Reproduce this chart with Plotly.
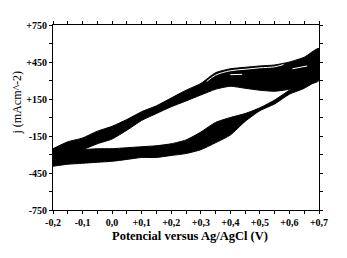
import plotly.graph_objects as go

# Potential grid (V vs Ag/AgCl)
potential = [-0.20, -0.15, -0.10, -0.05, 0.00, 0.05, 0.10, 0.15, 0.20, 0.25,
             0.30, 0.35, 0.40, 0.45, 0.50, 0.55, 0.60, 0.65, 0.70]

# Reverse (upper) branch envelope of the superposed cycles, mA cm^-2
reverse_top = [-253, -197, -166, -111, -71, -16, 47, 95, 158, 221,
               276, 363, 395, 407, 418, 426, 450, 489, 560]
reverse_bottom = [-332, -292, -261, -213, -174, -103, -24, 32, 87, 134,
                  182, 229, 253, 237, 221, 213, 229, 260, 300]

# Forward (lower) branch envelope, mA cm^-2
forward_top = [-268, -268, -261, -253, -253, -245, -237, -229, -213, -182,
               -118, -40, 0, 32, 79, 142, 221, 284, 347]
forward_bottom = [-395, -379, -371, -363, -355, -340, -324, -324, -308, -292,
                  -261, -205, -142, -32, 55, 110, 189, 237, 316]

# Thin light gaps between individual cycles inside the upper band
gap_potential = [0.32, 0.35, 0.40, 0.45, 0.50, 0.55, 0.58]
gap_current = [292, 343, 379, 391, 403, 411, 430]
streak_potential = [0.40, 0.44, None, 0.61, 0.66]
streak_current = [347, 350, None, 395, 418]

x_tickvals = [-0.2, -0.1, 0.0, 0.1, 0.2, 0.3, 0.4, 0.5, 0.6, 0.7]
x_ticktext = ["-0,2", "-0,1", "0,0", "+0,1", "+0,2", "+0,3", "+0,4", "+0,5", "+0,6", "+0,7"]
y_tickvals = [750, 450, 150, -150, -450, -750]
y_ticktext = ["+750", "+450", "+150", "-150", "-450", "-750"]

x_title = "Potencial versus Ag/AgCl (V)"
y_title = "j (mAcm^-2)"

fig = go.Figure()

fig.add_trace(go.Scatter(
    x=potential + potential[::-1],
    y=forward_top + forward_bottom[::-1],
    fill="toself", fillcolor="black",
    mode="lines", line=dict(color="black", width=1, shape="spline", smoothing=0.6),
    hoverinfo="skip", showlegend=False))

fig.add_trace(go.Scatter(
    x=potential + potential[::-1],
    y=reverse_top + reverse_bottom[::-1],
    fill="toself", fillcolor="black",
    mode="lines", line=dict(color="black", width=1, shape="spline", smoothing=0.6),
    hoverinfo="skip", showlegend=False))

fig.add_trace(go.Scatter(
    x=gap_potential, y=gap_current, mode="lines",
    line=dict(color="white", width=1, shape="spline"),
    hoverinfo="skip", showlegend=False))

fig.add_trace(go.Scatter(
    x=streak_potential, y=streak_current, mode="lines",
    line=dict(color="white", width=1),
    hoverinfo="skip", showlegend=False))

tickfont = dict(family="Liberation Serif", size=10, color="black", weight="bold")

fig.update_xaxes(
    range=[-0.2, 0.7], tickvals=x_tickvals, ticktext=x_ticktext,
    ticks="outside", ticklen=3, tickwidth=1, tickcolor="black",
    minor=dict(dtick=0.05, tick0=-0.2, ticks="outside", ticklen=3, tickcolor="black"),
    showline=True, linecolor="black", linewidth=1, mirror="ticks",
    showgrid=False, zeroline=False, tickfont=tickfont)

fig.update_yaxes(
    range=[-750, 750], tickvals=y_tickvals, ticktext=y_ticktext,
    ticks="outside", ticklen=3, tickwidth=1, tickcolor="black",
    minor=dict(dtick=150, tick0=-750, ticks="outside", ticklen=3, tickcolor="black"),
    showline=True, linecolor="black", linewidth=1, mirror="ticks",
    showgrid=False, zeroline=False, tickfont=tickfont)

fig.add_annotation(text=x_title, xref="paper", yref="paper", x=0.516, y=-0.138,
                   xanchor="center", yanchor="middle", showarrow=False,
                   font=dict(family="Liberation Serif", size=12.5, color="black", weight="bold"))
fig.add_annotation(text=y_title, xref="paper", yref="paper", x=-0.136, y=0.58,
                   xanchor="center", yanchor="middle", textangle=-90, showarrow=False,
                   font=dict(family="Liberation Serif", size=12, color="black"))

# The page body has an 8 px margin; the figure is sized so the plot area
# lands where it sits in the reference.
fig.update_layout(
    width=331, height=242,
    margin=dict(l=45, r=11, t=13, b=40),
    paper_bgcolor="white", plot_bgcolor="white",
    font=dict(family="Liberation Serif", color="black"))

fig.write_html("out.html")
